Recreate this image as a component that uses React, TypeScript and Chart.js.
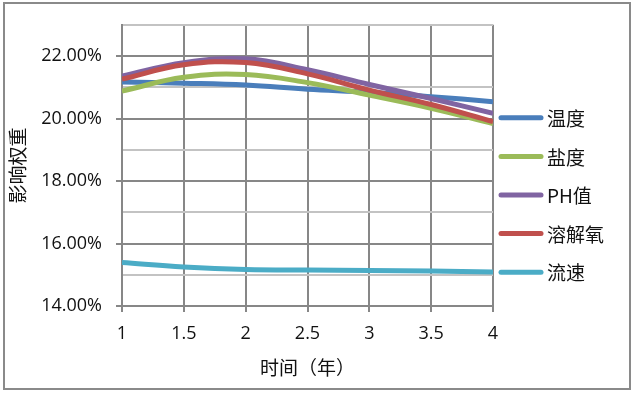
import React, { useEffect, useRef } from 'react';
import { Chart, registerables } from 'chart.js';

Chart.register(...registerables);

// ---- data ----
const years = [1, 1.5, 2, 2.5, 3, 3.5, 4];
const seriesNames = ['温度', '盐度', 'PH值', '溶解氧', '流速'];
const temperature = [21.17, 21.13, 21.07, 20.94, 20.84, 20.7, 20.54];
const salinity = [20.88, 21.32, 21.41, 21.15, 20.75, 20.33, 19.84];
const ph = [21.36, 21.79, 21.91, 21.56, 21.09, 20.64, 20.17];
const oxygen = [21.26, 21.72, 21.79, 21.43, 20.91, 20.45, 19.9];
const flow = [15.39, 15.25, 15.17, 15.15, 15.14, 15.12, 15.09];
const seriesValues = [temperature, salinity, ph, oxygen, flow];
const seriesColors = ['#4A7EBB', '#9BBB59', '#8064A2', '#C0504D', '#4BACC6'];
const xTitle = '时间（年）';
const yTitle = '影响权重';

const LATIN = "'Open Sans', 'Noto Sans CJK SC', sans-serif";
const CJK = "'Noto Sans CJK SC', sans-serif";
const DARK = '#878787';
const LIGHT = '#c3c3c3';

const sideLegend = {
  id: 'sideLegend',
  beforeDraw(chart: any) {
    const { ctx } = chart;
    ctx.save();
    ctx.fillStyle = '#ffffff';
    ctx.fillRect(0, 0, chart.width, chart.height);
    ctx.strokeStyle = '#8a8a8a';
    ctx.lineWidth = 2;
    ctx.strokeRect(4, 3, chart.width - 9, chart.height - 7);
    ctx.restore();
  },
  afterDraw(chart: any) {
    const { ctx, chartArea } = chart;
    const ds = chart.data.datasets;
    const n = ds.length;
    const centerY = 195;
    const gap = 38.6;
    const x0 = chartArea.right + 8;
    ctx.save();
    ds.forEach((d: any, i: number) => {
      const y = centerY + (i - (n - 1) / 2) * gap;
      ctx.strokeStyle = d.borderColor;
      ctx.lineWidth = 5;
      ctx.lineCap = 'round';
      ctx.beginPath();
      ctx.moveTo(x0, y);
      ctx.lineTo(x0 + 40, y);
      ctx.stroke();
      ctx.fillStyle = '#111';
      ctx.font = `19px ${CJK}`;
      ctx.textBaseline = 'middle';
      ctx.textAlign = 'left';
      ctx.fillText(d.label, x0 + 46, y + 1);
    });
    ctx.restore();
  },
};

export default function App() {
  const ref = useRef<HTMLCanvasElement | null>(null);

  useEffect(() => {
    if (!ref.current) return;
    const datasets = seriesNames.map((name, i) => ({
      label: name,
      data: years.map((x, j) => ({ x, y: seriesValues[i][j] })),
      borderColor: seriesColors[i],
      backgroundColor: seriesColors[i],
      borderWidth: 5,
      pointRadius: 0,
      pointHoverRadius: 0,
      tension: 0.4,
      fill: false,
      order: seriesNames.length - i,
    }));

    const chart = new Chart(ref.current, {
      type: 'line',
      data: { datasets },
      plugins: [sideLegend],
      options: {
        animation: false,
        responsive: false,
        maintainAspectRatio: false,
        layout: { padding: { top: 22, right: 142, left: 0, bottom: 0 } },
        plugins: {
          legend: { display: false },
          tooltip: { enabled: false },
        },
        scales: {
          x: {
            type: 'linear',
            min: 1,
            max: 4,
            afterFit: (scale: any) => {
              scale.height = 87;
            },
            ticks: {
              stepSize: 0.5,
              color: '#111',
              font: { family: LATIN, size: 18 },
              padding: 11,
              maxRotation: 0,
              autoSkip: false,
              callback: (v: any) => String(Number(v)),
            },
            grid: {
              color: DARK,
              lineWidth: 2,
              tickLength: 6,
              tickColor: DARK,
            },
            border: { color: DARK, width: 2 },
            title: {
              display: true,
              text: xTitle,
              color: '#111',
              font: { family: CJK, size: 19 },
              padding: { top: 0, bottom: 14 },
            },
          },
          y: {
            type: 'linear',
            min: 14,
            max: 23,
            afterFit: (scale: any) => {
              scale.width = 122;
            },
            ticks: {
              stepSize: 1,
              autoSkip: false,
              color: '#111',
              font: { family: LATIN, size: 18 },
              padding: 14,
              callback: (v: any) => (Math.round(v) % 2 === 0 ? Number(v).toFixed(2) + '%' : ''),
            },
            grid: {
              color: (c: any) => (c.tick && Math.round(c.tick.value) % 2 === 0 ? DARK : LIGHT),
              tickColor: (c: any) => (c.tick && Math.round(c.tick.value) % 2 === 0 ? DARK : 'rgba(0,0,0,0)'),
              lineWidth: 2,
              tickLength: 6,
            },
            border: { color: DARK, width: 2 },
            title: {
              display: true,
              text: yTitle,
              color: '#111',
              font: { family: CJK, size: 19 },
              padding: { top: 6, bottom: 0 },
            },
          },
        },
      } as any,
    });
    return () => chart.destroy();
  }, []);

  return (
    <div style={{ position: 'fixed', left: 0, top: 0, width: 635, height: 393, background: '#fff' }}>
      <canvas ref={ref} width={635} height={393} style={{ width: 635, height: 393, display: 'block' }} />
    </div>
  );
}
